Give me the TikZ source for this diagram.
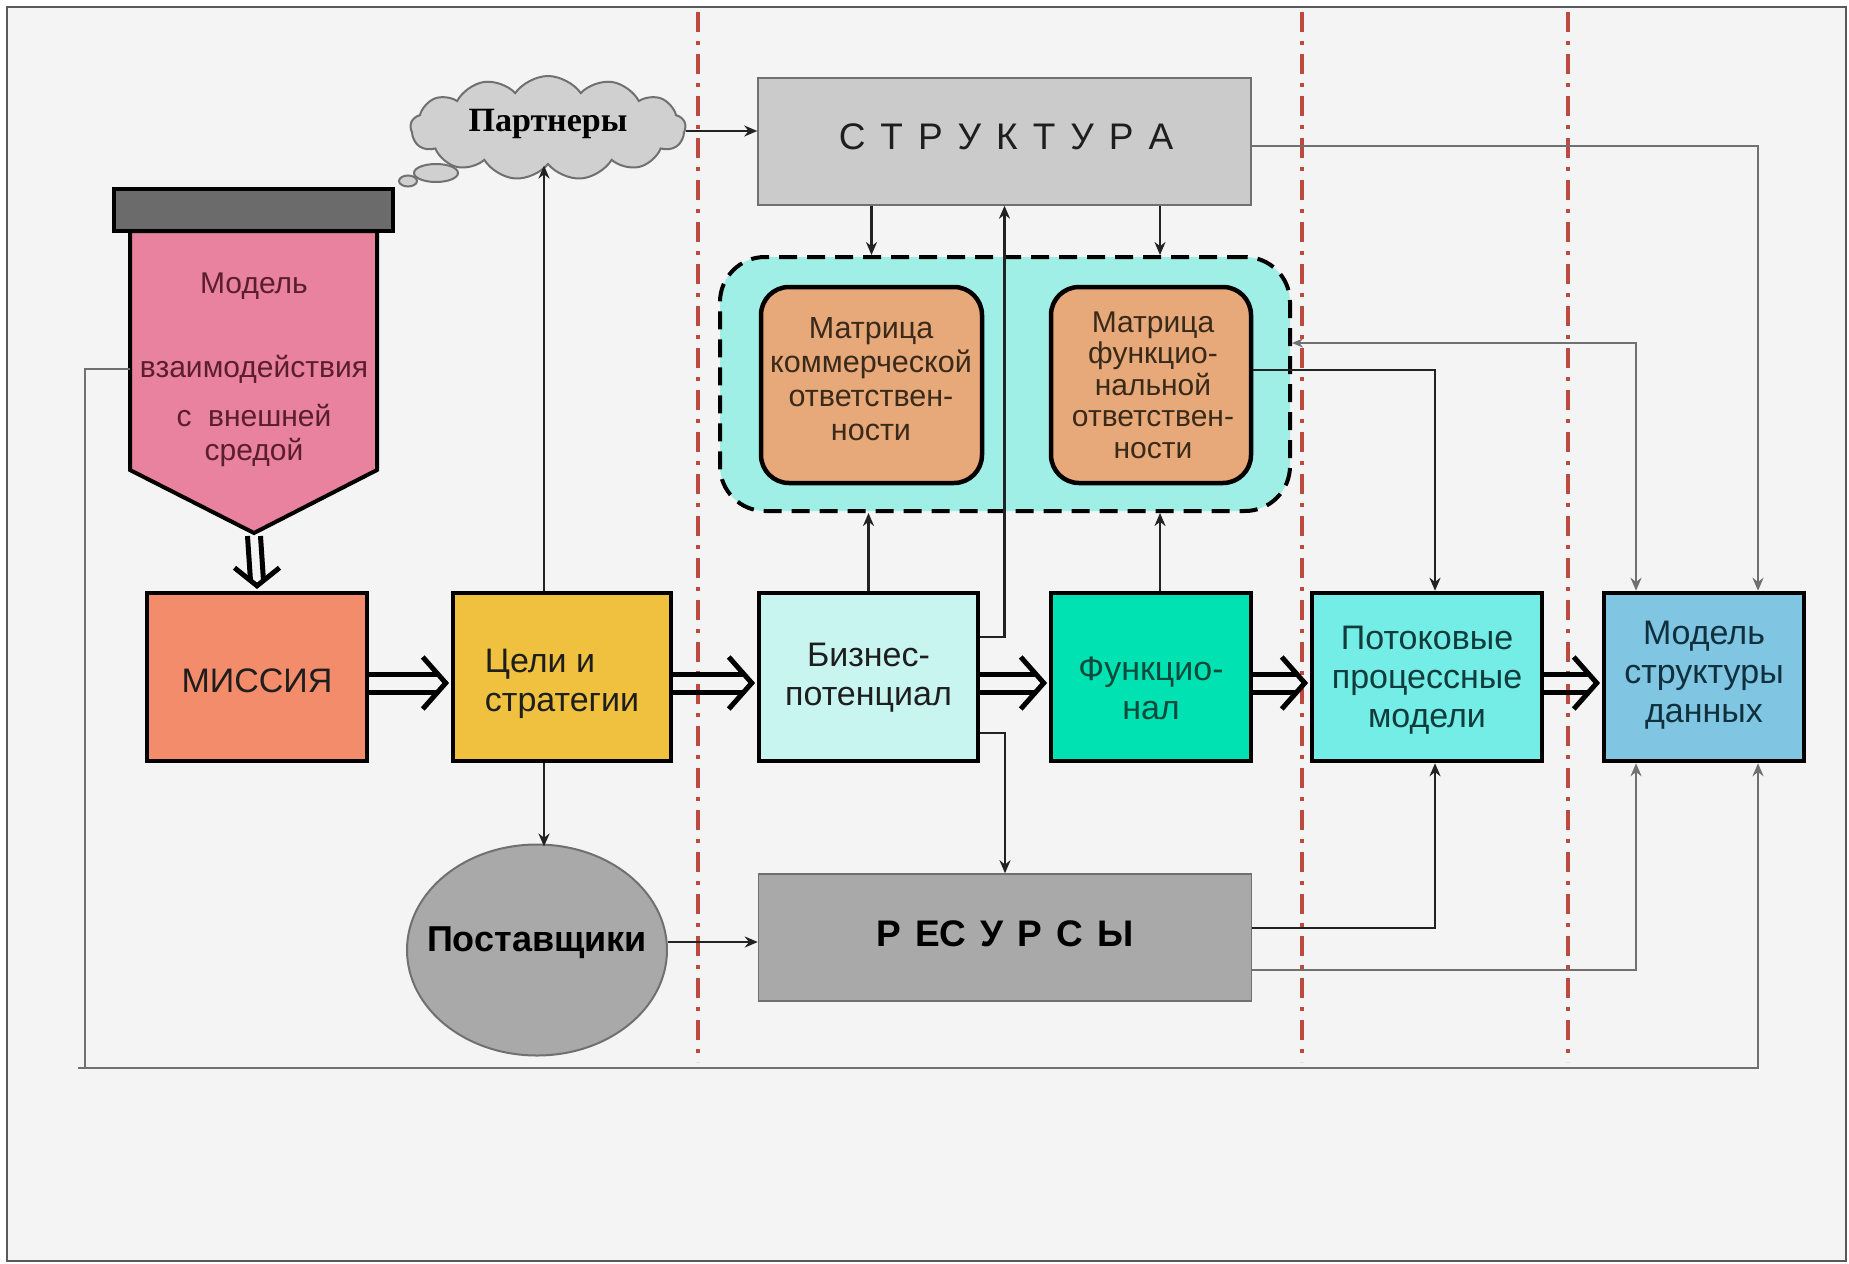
\documentclass[tikz,border=0pt]{standalone}
\usepackage{fontspec}
\setmainfont{Liberation Sans}
\newfontfamily\partfont{Liberation Serif}
\usetikzlibrary{arrows.meta,shapes.geometric,shapes.symbols,calc}
\newcommand\myfs[2]{\fontsize{#1pt}{#2pt}\selectfont}
\newcommand\lsp{\hspace{15pt}}
\newcommand\rsp{\hspace{14pt}}
% hollow horizontal double arrow: #1 start anchor, #2 end anchor, #3 vertical offset
\newcommand\harr[3]{%
  \draw[hol] ($(#1)+(0,#3-9)$) -- ($(#2)+(-12,#3-9)$);
  \draw[hol] ($(#1)+(0,#3+9)$) -- ($(#2)+(-12,#3+9)$);
  \draw[hol] ($(#2)+(-28,#3-26)$) -- ($(#2)+(-5,#3)$) -- ($(#2)+(-28,#3+26)$);}
\definecolor{bg}{HTML}{F4F4F4}
\definecolor{framec}{HTML}{5A5A5A}
\definecolor{redl}{HTML}{BC4A3E}
\definecolor{pinkc}{HTML}{E9829E}
\definecolor{capc}{HTML}{6B6B6B}
\definecolor{missc}{HTML}{F28C6A}
\definecolor{goalc}{HTML}{EFC13F}
\definecolor{bizc}{HTML}{C9F5F1}
\definecolor{funcc}{HTML}{00E2B2}
\definecolor{flowc}{HTML}{74EDE6}
\definecolor{datac}{HTML}{80C6E2}
\definecolor{contc}{HTML}{9FEFE6}
\definecolor{matc}{HTML}{E8A97A}
\definecolor{structc}{HTML}{CBCBCB}
\definecolor{resc}{HTML}{A9A9A9}
\definecolor{cloudc}{HTML}{D0D0D0}
\definecolor{dk}{HTML}{222222}
\definecolor{gr}{HTML}{707070}
\definecolor{txt}{HTML}{1E1E1E}
\definecolor{pinktxt}{HTML}{5A1E2E}
\definecolor{functxt}{HTML}{0B4A3C}
\definecolor{flowtxt}{HTML}{103C3C}
\definecolor{datatxt}{HTML}{10303E}
\definecolor{mattxt}{HTML}{3A2A1A}
\begin{document}
\begin{tikzpicture}[x=1pt,y=-1pt,
  box/.style={draw=black, line width=4.5pt, minimum height=168pt, inner sep=0pt},
  boxtext/.style={align=center, inner sep=0pt, font=\myfs{34}{39}, text=txt},
  matbox/.style={draw=black, line width=4.5pt, rounded corners=28pt, fill=matc,
    minimum height=196pt, inner sep=0pt},
  mattext/.style={align=center, inner sep=0pt, font=\myfs{30.5}{34}, text=mattxt},
  greybox/.style={draw=gr, line width=1.5pt, minimum height=127pt, minimum width=493pt, inner sep=0pt},
  conn/.style={line width=2.5pt, draw=dk, -{Stealth[length=13pt,width=11pt]}},
  gconn/.style={conn, draw=gr},
  hol/.style={line width=5pt, draw=black, line join=miter, miter limit=10},
  redline/.style={draw=redl, line width=3.5pt, dash pattern=on 20pt off 9pt on 4pt off 9pt}
]
\fill[white] (0,0) rectangle (1849,1263);
\useasboundingbox (0,0) rectangle (1849,1263);
\draw[line width=2.5pt, draw=framec, fill=bg] (7,7) rectangle (1846,1261);

% separators
\draw[redline] (698,12) -- (698,1062);
\draw[redline] (1302,12) -- (1302,1062);
\draw[redline] (1568,12) -- (1568,1062);

% container
\node[draw=black, line width=4pt, dash pattern=on 18pt off 10pt, rounded corners=45pt,
  fill=contc, minimum width=570pt, minimum height=254pt] (cont) at (1005,384) {};

% cloud
\node[cloud, cloud puffs=13, cloud puff arc=110, cloud ignores aspect, draw=gr, fill=cloudc,
  line width=2pt, minimum width=275pt, minimum height=104pt, inner sep=0pt] (cloud) at (548,128) {};
\node[font=\partfont\bfseries\myfs{34}{38}, text=black, inner sep=0pt] (cloudtxt) at (548,124) {Партнеры};
\node[ellipse, draw=gr, fill=cloudc, line width=2pt, minimum width=44pt, minimum height=18pt, inner sep=0pt] (bub1) at (436,173) {};
\node[ellipse, draw=gr, fill=cloudc, line width=2pt, minimum width=18pt, minimum height=11pt, inner sep=0pt] (bub2) at (408,181) {};

% pentagon model
\draw[line width=4pt, fill=pinkc] (130,231) -- (377,231) -- (377,470) -- (254,533) -- (130,470) -- cycle;
\node[draw=black, line width=4pt, fill=capc, minimum width=279pt, minimum height=42pt, inner sep=0pt] (cap) at (253.5,210) {};
\coordinate (pentL) at (130,369);
\coordinate (pentTip) at (254,533);
\node[font=\myfs{30}{34}, text=pinktxt, align=center, inner sep=0pt] (pentxt) at (254,370)
  {Модель\\[50pt]взаимодействия\\[15pt]с\ \ внешней\\средой};

% structure & resources
\node[greybox, fill=structc] (struct) at (1004.5,141.5) {};
\node[font=\myfs{37}{40}, text=txt, inner sep=0pt] (structtxt) at (1006,137)
  {С\lsp Т\lsp Р\lsp У\lsp К\lsp Т\lsp У\lsp Р\lsp А};
\node[greybox, fill=resc] (res) at (1005,937.5) {};
\node[font=\bfseries\myfs{37}{40}, text=black, inner sep=0pt] (restxt) at (1005,934)
  {Р\rsp ЕС\rsp У\rsp Р\rsp С\rsp Ы};

% matrices
\node[matbox, minimum width=221pt] (mat1) at (871.5,385) {};
\node[mattext] (mat1txt) at (871,379) {Матрица\\коммерческой\\ответствен-\\ности};
\node[matbox, minimum width=200pt] (mat2) at (1151,385) {};
\node[mattext, font=\myfs{30}{31.5}] (mat2txt) at (1153,385) {Матрица\\функцио-\\нальной\\ответствен-\\ности};

% main row
\node[box, fill=missc, minimum width=220pt] (miss) at (257,677) {};
\node[boxtext] (misstxt) at (257,681) {МИССИЯ};
\node[box, fill=goalc, minimum width=218pt] (goals) at (562,677) {};
\node[boxtext, align=left] (goalstxt) at (562,684) {Цели и\\стратегии};
\node[box, fill=bizc, minimum width=219pt] (biz) at (868.5,677) {};
\node[boxtext] (biztxt) at (868.5,678) {Бизнес-\\потенциал};
\node[box, fill=funcc, minimum width=200pt] (func) at (1151,677) {};
\node[boxtext, text=functxt] (functxt) at (1151,688) {Функцио-\\нал};
\node[box, fill=flowc, minimum width=230pt] (flow) at (1427,677) {};
\node[boxtext, text=flowtxt] (flowtxt) at (1427,680) {Потоковые\\процессные\\модели};
\node[box, fill=datac, minimum width=200pt] (data) at (1704,677) {};
\node[boxtext, text=datatxt] (datatxt) at (1704,675) {Модель\\структуры\\данных};

% suppliers
\node[ellipse, draw=gr, line width=2pt, fill=resc, minimum width=260pt, minimum height=211pt,
  inner sep=0pt] (sup) at (537,950) {};
\node[font=\bfseries\myfs{36}{40}, text=black, inner sep=0pt] (suptxt) at (537,943) {Поставщики};

% thin connectors
\draw[conn] ([xshift=-18pt]goals.north) -- ([xshift=-18pt]goals.north |- cloud.south);
\draw[conn] ([xshift=-18pt]goals.south) -- ([xshift=-18pt,yshift=-3pt]goals.south |- sup.north);
\draw[conn] ([yshift=-3pt]cloud.east) -- ([yshift=-3pt]cloud.east -| struct.west);
\draw[conn] (mat1.north |- struct.south) -- (mat1.north |- cont.north);
\draw[conn] ([xshift=9pt]mat2.north |- struct.south) -- ([xshift=9pt]mat2.north |- cont.north);
\draw[conn] (biz.north) -- (biz.north |- cont.south);
\draw[conn] ([xshift=9pt]func.north) -- ([xshift=9pt]func.north |- cont.south);
\draw[conn] ([yshift=40pt]biz.east) -| (struct.south);
\draw[conn] ([yshift=-56pt]biz.east) -| (res.north);
\draw[conn] ([yshift=8pt]sup.east) -- ([yshift=8pt]sup.east -| res.west);
\draw[conn] ([yshift=15pt]mat2.east) -| ([xshift=8pt]flow.north);
\draw[gconn, {Stealth[length=11pt,width=9pt]}-{Stealth[length=13pt,width=11pt]}] ([yshift=41pt]cont.east) -| ([xshift=-68pt]data.north);
\draw[gconn] ([yshift=-4.5pt]struct.east) -| ([xshift=54pt]data.north);
\draw[conn] ([yshift=9.5pt]res.east) -| ([xshift=8pt]flow.south);
\draw[gconn] ([yshift=-32.5pt]res.east) -| ([xshift=-68pt]data.south);
\coordinate (fbL) at (85,1068);
\draw[gconn] (pentL) -| (fbL) -| ([xshift=54pt]data.south);
\draw[line width=2.5pt, draw=gr] (fbL) -- (78,1068);

% hollow double arrows
\draw[hol] ($(pentTip)+(-6.5,3)$) -- ($(miss.north)+(-6.5,-10)$);
\draw[hol] ($(pentTip)+(6.5,3)$) -- ($(miss.north)+(6.5,-10)$);
\draw[hol] ($(miss.north)+(-22.5,-23)$) -- ($(miss.north)+(0,-5)$) -- ($(miss.north)+(22.5,-23)$);
\harr{miss.east}{goals.west}{6}
\harr{goals.east}{biz.west}{6}
\harr{biz.east}{func.west}{6}
\harr{func.east}{flow.west}{6}
\harr{flow.east}{data.west}{6}
\end{tikzpicture}
\end{document}
